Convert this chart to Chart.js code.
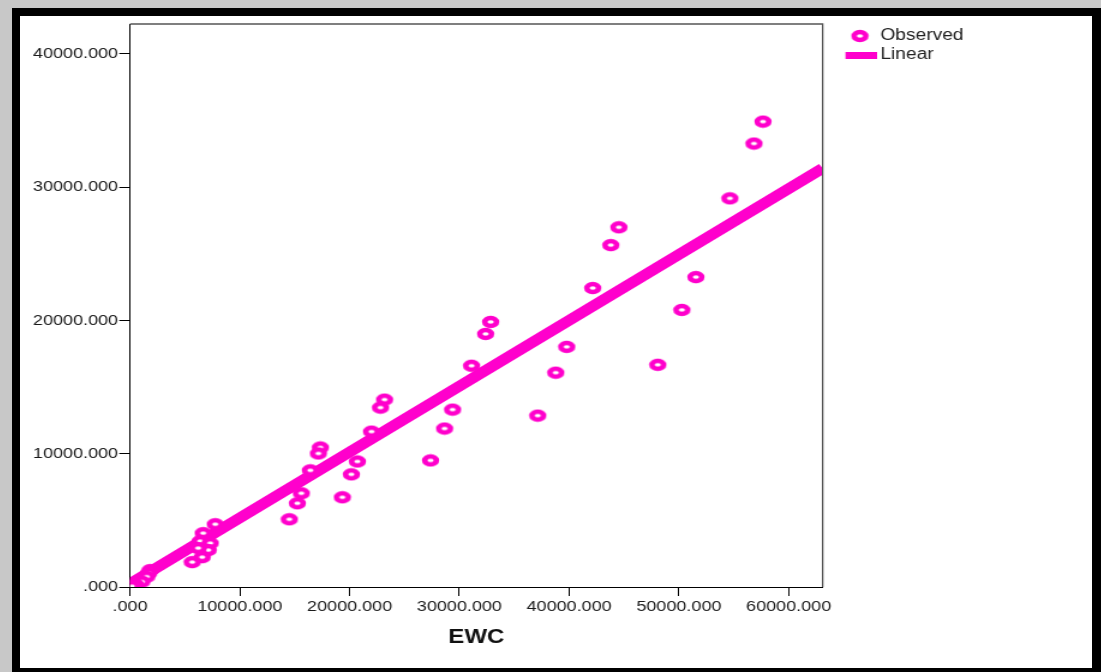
<!DOCTYPE html>
<html>
<head>
<meta charset="utf-8">
<title>EWC scatter</title>
<script src="https://cdn.jsdelivr.net/npm/chart.js@4.4.0/dist/chart.umd.min.js"></script>
<style>
  html, body { margin: 0; padding: 0; width: 1101px; height: 672px; overflow: hidden; background: #c8c8c8; }
  #frame {
    position: absolute; left: 12px; top: 8px;
    width: 1072px; height: 652px;
    border-style: solid; border-color: #000;
    border-width: 8px 9px 4px 8px;
    background: #fff;
  }
</style>
</head>
<body>
<div id="frame">
  <!-- drawn at SPSS proportions, then stretched sideways like the exported picture -->
  <canvas id="chart" width="893" height="652" style="width:1072px;height:652px;display:block"></canvas>
</div>
<script>
const MAGENTA = '#ff00cc';
const FONT = '"Liberation Sans", Arial, sans-serif';

// observed points (EWC on x)
const obsX = [57660, 56840, 54650, 44530, 43800, 42150, 51550, 50270, 48080, 39780,
              38780, 37140, 32850, 32390, 31110, 29380, 28650, 27370, 23180, 22810,
              21990, 17340, 17150, 20710, 20160, 19340, 16420, 15600, 15240, 14510,
              7760, 6660, 6390, 7300, 7120, 5660, 6570, 6200,
              1830, 1700, 1520, 1070, 460, 150];
const obsY = [34920, 33270, 29160, 26990, 25650, 22430, 23250, 20790, 16670, 18020,
              16080, 12860, 19890, 18990, 16600, 13310, 11890, 9500, 14060, 13460,
              11660, 10470, 10020, 9420, 8450, 6730, 8750, 7030, 6280, 5080,
              4710, 4040, 3440, 3290, 2770, 1870, 2240, 2920,
              1270, 1050, 770, 400, 220, 60];

// fitted linear line, read at both ends of the axis
const fitX = [0, 63100];
const fitY = [250, 31420];

// axes
const xMax = 63100;
const yMax = 42240;
const xTicks = [0, 10000, 20000, 30000, 40000, 50000, 60000];
const yTicks = [0, 10000, 20000, 30000, 40000];

function fmt(v) {
  return v === 0 ? '.000' : v.toFixed(3);
}

function ringImage() {
  const c = document.createElement('canvas');
  c.width = 16; c.height = 14;
  const g = c.getContext('2d');
  g.beginPath();
  g.ellipse(8, 7, 4.9, 4.0, 0, 0, Math.PI * 2);
  g.fillStyle = '#fff';
  g.fill();
  g.lineWidth = 4.6;
  g.strokeStyle = MAGENTA;
  g.stroke();
  return c;
}

function barImage() {
  const c = document.createElement('canvas');
  c.width = 28; c.height = 7;
  const g = c.getContext('2d');
  g.fillStyle = MAGENTA;
  g.fillRect(0, 0, 28, 7);
  return c;
}

const ring = ringImage();
const bar = barImage();

// top/right frame of the plot + nudge legend into place
const plotFrame = {
  id: 'plotFrame',
  afterLayout(chart) {
    const lg = chart.legend;
    lg.left += 19;
    lg.right += 19;
    lg.top += 3;
    lg.bottom += 3;
  },
  afterDatasetsDraw(chart) {
    const { ctx, chartArea: a } = chart;
    ctx.save();
    ctx.strokeStyle = '#555';
    ctx.lineWidth = 1.3;
    ctx.beginPath();
    ctx.moveTo(a.left, a.top);
    ctx.lineTo(a.right, a.top);
    ctx.lineTo(a.right, a.bottom);
    ctx.stroke();
    ctx.restore();
  }
};

const ctx = document.getElementById('chart').getContext('2d');
const chart = new Chart(ctx, {
  type: 'scatter',
  data: {
    datasets: [
      {
        label: 'Observed',
        data: obsX.map((x, i) => ({ x: x, y: obsY[i] })),
        pointStyle: ring,
        pointRadius: 7,
        pointHoverRadius: 7,
        showLine: false,
        clip: 0
      },
      {
        type: 'line',
        label: 'Linear',
        data: fitX.map((x, i) => ({ x: x, y: fitY[i] })),
        borderColor: MAGENTA,
        backgroundColor: MAGENTA,
        borderWidth: 10.5,
        borderCapStyle: 'butt',
        pointRadius: 0,
        fill: false,
        tension: 0,
        clip: 0
      }
    ]
  },
  options: {
    responsive: false,
    animation: false,
    events: [],
    layout: { padding: { top: 6, right: 116, bottom: 0, left: 0 } },
    plugins: {
      tooltip: { enabled: false },
      legend: {
        position: 'right',
        align: 'start',
        labels: {
          usePointStyle: true,
          pointStyleWidth: 18,
          padding: 3,
          color: '#222',
          font: { family: FONT, size: 16 },
          generateLabels: () => [
            { text: 'Observed', pointStyle: ring, datasetIndex: 0, hidden: false, lineWidth: 0, fontColor: '#222' },
            { text: 'Linear', pointStyle: bar, datasetIndex: 1, hidden: false, lineWidth: 0, fontColor: '#222' }
          ]
        }
      }
    },
    scales: {
      x: {
        type: 'linear',
        position: 'bottom',
        min: 0,
        max: xMax,
        afterFit: s => { s.height = 81; },
        afterBuildTicks: s => { s.ticks = xTicks.map(v => ({ value: v })); },
        ticks: {
          autoSkip: false,
          maxRotation: 0,
          padding: 2,
          color: '#1a1a1a',
          font: { family: FONT, size: 15 },
          callback: v => fmt(v)
        },
        grid: { drawOnChartArea: false, drawTicks: true, tickLength: 9, color: '#000', lineWidth: 1 },
        border: { display: true, color: '#000', width: 1 },
        title: {
          display: true,
          text: 'EWC',
          color: '#111',
          font: { family: FONT, size: 20, weight: 'bold' },
          padding: { top: 4, bottom: 19 }
        }
      },
      y: {
        type: 'linear',
        min: 0,
        max: yMax,
        afterFit: s => { s.width = 91.7; s.paddingTop = 0; s.paddingBottom = 0; },
        afterBuildTicks: s => { s.ticks = yTicks.map(v => ({ value: v })); },
        ticks: {
          autoSkip: false,
          padding: 1,
          color: '#1a1a1a',
          font: { family: FONT, size: 15 },
          callback: v => fmt(v)
        },
        grid: { drawOnChartArea: false, drawTicks: true, tickLength: 9, color: '#000', lineWidth: 1 },
        border: { display: true, color: '#000', width: 1 }
      }
    }
  },
  plugins: [plotFrame]
});
</script>
</body>
</html>
